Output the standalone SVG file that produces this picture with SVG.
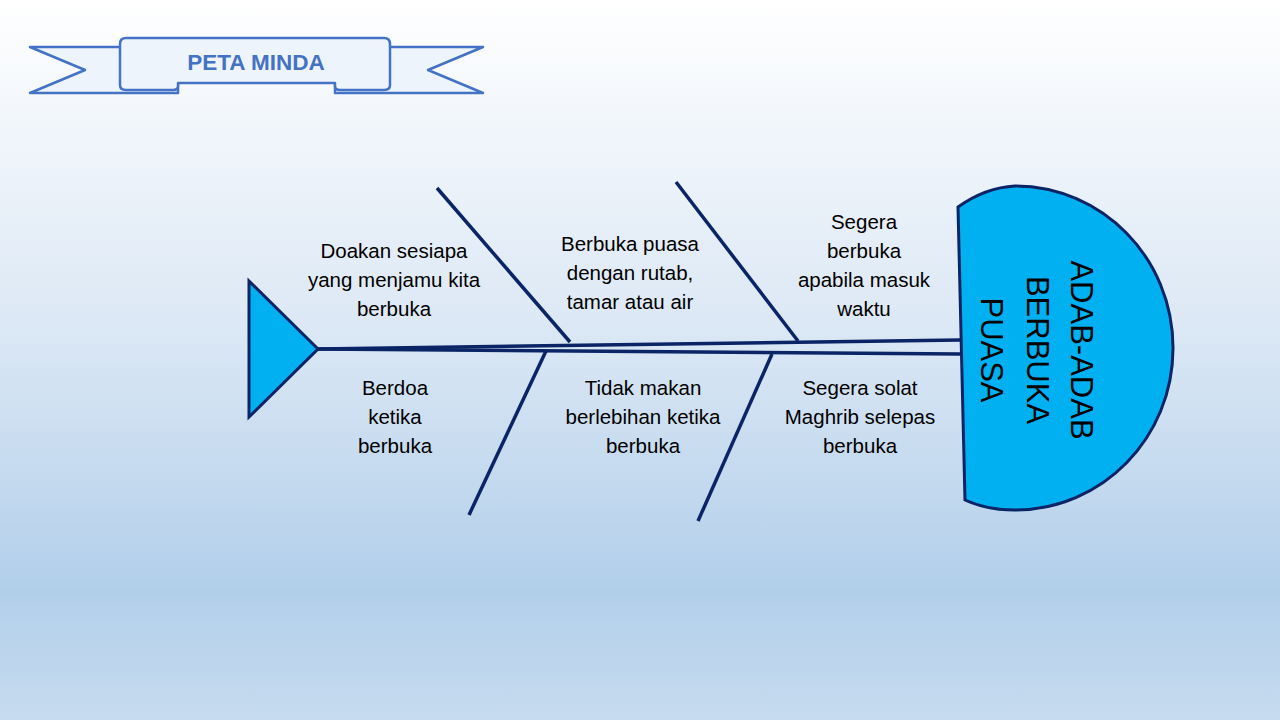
<svg xmlns="http://www.w3.org/2000/svg" width="1280" height="720" viewBox="0 0 1280 720">
<defs>
<linearGradient id="bg" x1="0" y1="0" x2="0" y2="1">
<stop offset="0" stop-color="#ffffff"/>
<stop offset="0.45" stop-color="#dce8f5"/>
<stop offset="0.82" stop-color="#b2cfea"/>
<stop offset="1" stop-color="#c6dbef"/>
</linearGradient>
<style>
.bone{stroke:#0a2466;stroke-width:3.5;fill:none;stroke-linecap:butt}
.lbl{font-family:"Liberation Sans",Arial,sans-serif;font-size:20.5px;fill:#000;text-anchor:middle}
.rib{fill:#eef4fb;stroke:#4472c4;stroke-width:2.5;stroke-linejoin:round}
</style>
</defs>
<rect width="1280" height="720" fill="url(#bg)"/>

<g id="banner">
<path class="rib" d="M120,47 L30,47 L85,70 L30,93 L178,93 L178,84"/>
<path class="rib" d="M390,47 L483,47 L428,70 L483,93 L335,93 L335,84"/>
<path class="rib" d="M126,38 L384,38 Q390,38 390,44 L390,85 Q390,90 384,90 L340,90 Q335,90 335,86 L335,83 L178,83 L178,86 Q178,90 173,90 L126,90 Q120,90 120,85 L120,44 Q120,38 126,38 Z"/>
<text x="256" y="70" font-family="'Liberation Sans',Arial,sans-serif" font-size="22.5" font-weight="bold" fill="#4472c4" text-anchor="middle">PETA MINDA</text>
</g>

<g id="connectors">
<line class="bone" x1="318" y1="349" x2="960" y2="340"/>
<line class="bone" x1="318" y1="349" x2="960" y2="354"/>
<line class="bone" x1="437" y1="188" x2="570" y2="342"/>
<line class="bone" x1="676" y1="182" x2="798" y2="341"/>
<line class="bone" x1="546" y1="351" x2="469" y2="515"/>
<line class="bone" x1="772" y1="354" x2="698" y2="521"/>
</g>

<g id="tail">
<polygon points="249,281 318,349 249,417" fill="#00b0f0" stroke="#0a2466" stroke-width="3" stroke-linejoin="miter"/>
</g>

<g id="head">
<path d="M958,207 C975,195 995,187 1015,186 C1102,186 1173,258 1173,348 C1173,438 1102,510 1015,510 C995,510 978,506 965,500 Z" fill="#00b0f0" stroke="#0a2466" stroke-width="3"/>
<g transform="translate(1037,350) rotate(90)" font-family="'Liberation Sans',Arial,sans-serif" font-size="31" fill="#000" text-anchor="middle">
<text x="0" y="-34">ADAB-ADAB</text>
<text x="0" y="10">BERBUKA</text>
<text x="0" y="56">PUASA</text>
</g>
</g>

<g id="n1">
<text class="lbl" x="394" y="258">Doakan sesiapa</text>
<text class="lbl" x="394" y="287">yang menjamu kita</text>
<text class="lbl" x="394" y="316">berbuka</text>
</g>
<g id="n2">
<text class="lbl" x="630" y="251">Berbuka puasa</text>
<text class="lbl" x="630" y="280">dengan rutab,</text>
<text class="lbl" x="630" y="309">tamar atau air</text>
</g>
<g id="n3">
<text class="lbl" x="864" y="229">Segera</text>
<text class="lbl" x="864" y="258">berbuka</text>
<text class="lbl" x="864" y="287">apabila masuk</text>
<text class="lbl" x="864" y="316">waktu</text>
</g>
<g id="n4">
<text class="lbl" x="395" y="395">Berdoa</text>
<text class="lbl" x="395" y="424">ketika</text>
<text class="lbl" x="395" y="453">berbuka</text>
</g>
<g id="n5">
<text class="lbl" x="643" y="395">Tidak makan</text>
<text class="lbl" x="643" y="424">berlebihan ketika</text>
<text class="lbl" x="643" y="453">berbuka</text>
</g>
<g id="n6">
<text class="lbl" x="860" y="395">Segera solat</text>
<text class="lbl" x="860" y="424">Maghrib selepas</text>
<text class="lbl" x="860" y="453">berbuka</text>
</g>
</svg>
